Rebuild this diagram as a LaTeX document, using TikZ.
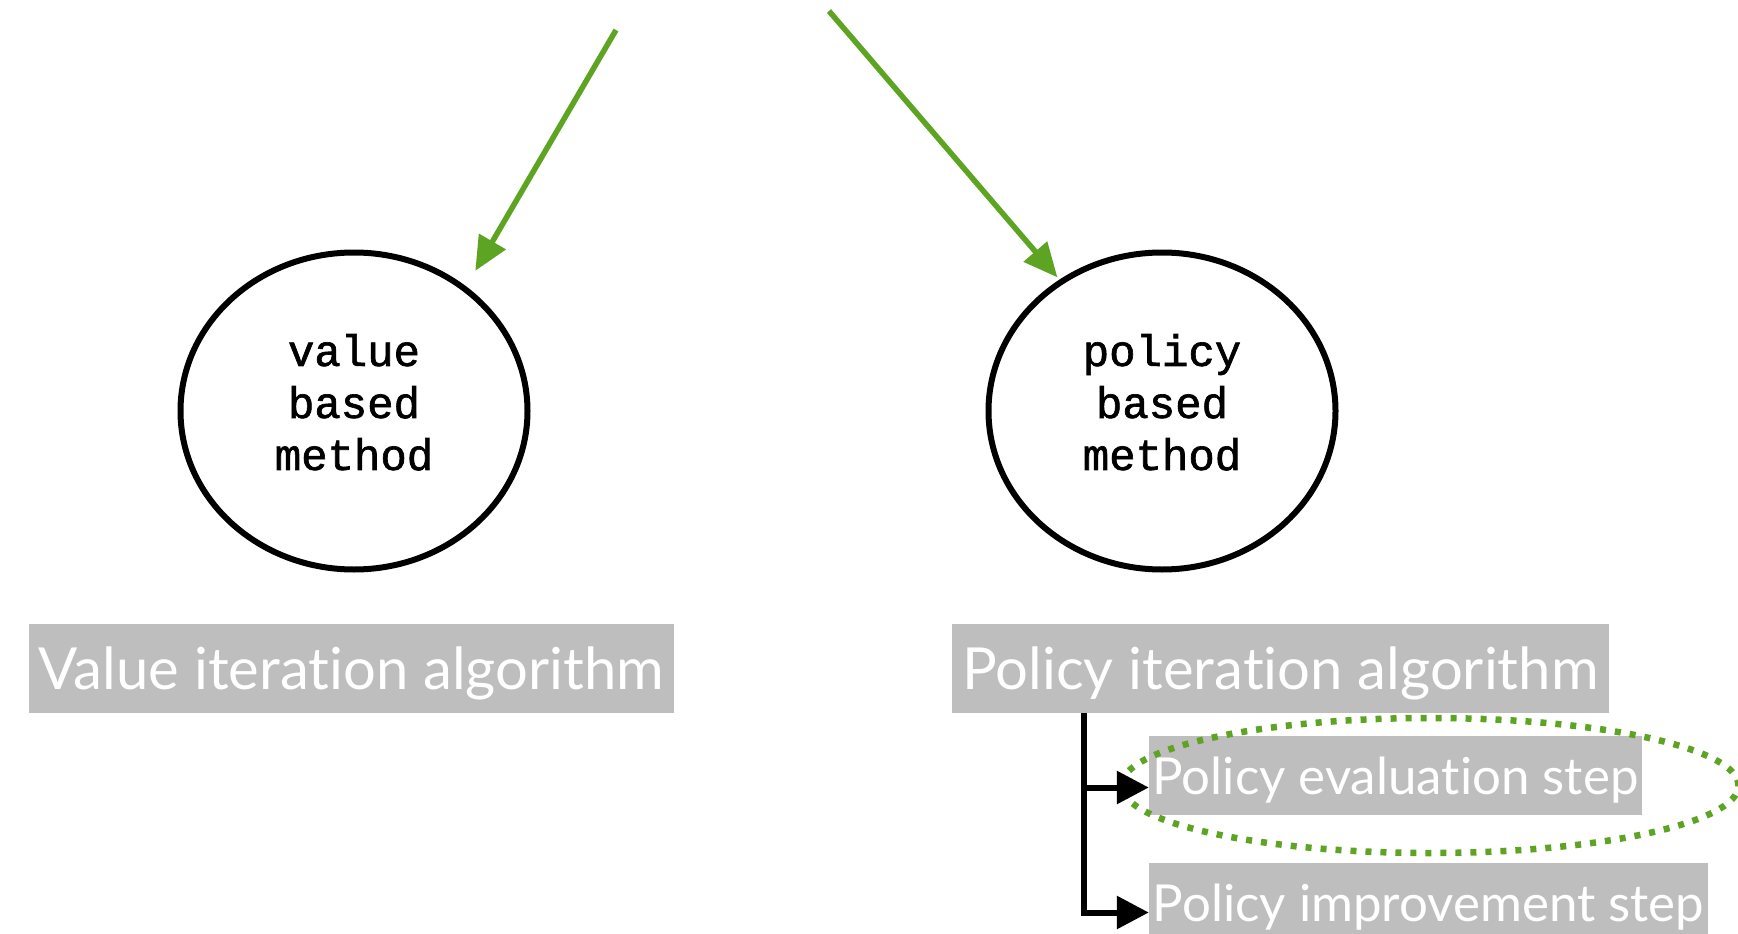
\documentclass[tikz,border=0pt]{standalone}
\usepackage{fontspec}
\usetikzlibrary{shapes.geometric,arrows.meta}
\newfontfamily\codefont{Liberation Mono}[UprightFeatures={FakeBold=1.5}]
\newfontfamily\labelfont{Lato}[Ligatures=NoCommon]
\definecolor{arrowgreen}{RGB}{93,164,35}
\definecolor{boxgray}{RGB}{190,190,190}

\begin{document}
\begin{tikzpicture}[x=1pt, y=1pt, node distance=808pt, method/.style={ellipse, draw, line width=6pt, minimum width=347pt, minimum height=317pt, align=center, text depth=18pt, font=\codefont\fontsize{44}{52}\selectfont}, algo/.style={rectangle, fill=boxgray, text=white, inner sep=0pt, minimum height=89pt, text depth=0pt, font=\labelfont\fontsize{58}{58}\selectfont}, stepbox/.style={algo, minimum height=79pt, font=\labelfont\fontsize{51}{51}\selectfont}, hilite/.style={ellipse, draw=arrowgreen, line width=6.5pt, dash pattern=on 6pt off 9pt, minimum width=617pt, minimum height=135pt}, greenarrow/.style={-{Triangle[length=34pt,width=30pt]}, draw=arrowgreen, fill=arrowgreen, line width=5.5pt}, treearrow/.style={-{Triangle[length=32pt,width=32pt]}, line width=6pt}]

  \useasboundingbox (0,0) rectangle (1738,-934);

  \coordinate (titleL) at (616,-30);
  \coordinate (titleR) at (829,-11);

  \node[method] (vbm) at (354,-411) {value\\based\\method};
  \node[method, right of=vbm] (pbm) {policy\\based\\method};

  \node[algo, minimum width=645pt] (via) at (351.5,-668.5) {Value iteration algorithm};
  \node[algo, minimum width=657pt, right of=via, node distance=929pt] (pia) {Policy iteration algorithm};

  \node[stepbox, minimum width=493pt] (pes) at (1395.5,-775.5) {Policy evaluation step};
  \node[stepbox, minimum width=559pt] (pis) at (1428.5,-902.5) {Policy improvement step};
  \node[hilite] (hl) at (1430,-785.5) {};

  \coordinate (trunk) at ([xshift=132pt]pia.south west);

  \draw[greenarrow, shorten >=18pt] (titleL) -- (vbm.48);
  \draw[greenarrow, shorten >=3pt] (titleR) -- (pbm.128);
  \draw[treearrow] (trunk) |- ([yshift=-12pt]pes.west);
  \draw[treearrow] (trunk) |- ([yshift=-10pt]pis.west);
\end{tikzpicture}
\end{document}
